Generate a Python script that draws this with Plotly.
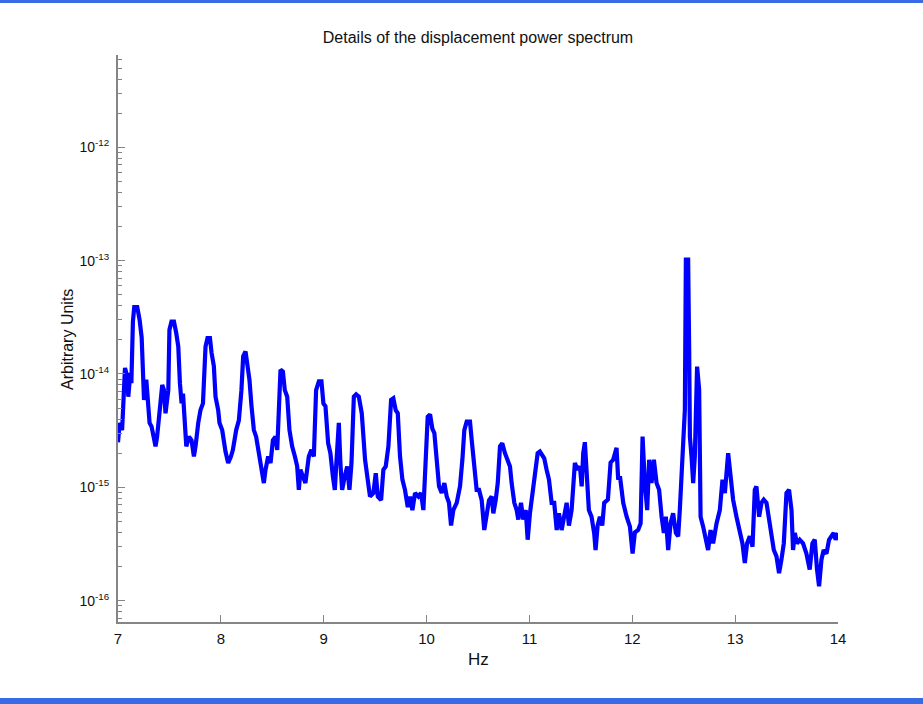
import plotly.graph_objects as go

# ---------------- data ----------------
hz_07 = [7.000, 7.016, 7.040, 7.068, 7.090, 7.100, 7.120, 7.130, 7.145, 7.158,
         7.187, 7.210, 7.230, 7.243, 7.253, 7.275, 7.294, 7.307, 7.326, 7.350,
         7.365, 7.380, 7.414, 7.430, 7.447, 7.462, 7.489, 7.500, 7.520, 7.544,
         7.566, 7.586, 7.602, 7.618, 7.632, 7.650, 7.664, 7.690, 7.715, 7.738,
         7.754, 7.780, 7.802, 7.826, 7.851, 7.870, 7.894, 7.910, 7.932, 7.948,
         7.974, 7.987]
psd_07 = [2.5e-15, 3.7e-15, 3.2e-15, 1.13e-14, 9.5e-15, 6.3e-15, 1.02e-14, 8.3e-15, 2.9e-14, 3.9e-14,
          3.9e-14, 3.0e-14, 2.1e-14, 9.5e-15, 5.9e-15, 8.9e-15, 5.9e-15, 3.7e-15, 3.45e-15, 2.7e-15,
          2.3e-15, 2.8e-15, 5.2e-15, 8.0e-15, 7.2e-15, 4.5e-15, 7.2e-15, 2.45e-14, 2.9e-14, 2.9e-14,
          2.3e-14, 1.75e-14, 8.3e-15, 5.5e-15, 6.7e-15, 3.7e-15, 2.3e-15, 2.8e-15, 2.6e-15, 1.87e-15,
          2.3e-15, 3.7e-15, 4.8e-15, 5.5e-15, 1.75e-14, 2.07e-14, 2.07e-14, 1.53e-14, 1.17e-14, 6.3e-15,
          4.8e-15, 3.7e-15]

hz_08 = [8.013, 8.045, 8.071, 8.098, 8.117, 8.149, 8.175, 8.200, 8.217, 8.240,
         8.266, 8.278, 8.298, 8.321, 8.343, 8.370, 8.395, 8.418, 8.434, 8.460,
         8.483, 8.506, 8.531, 8.548, 8.580, 8.603, 8.622, 8.645, 8.667, 8.693,
         8.720, 8.742, 8.758, 8.774, 8.797, 8.822, 8.855, 8.880, 8.904, 8.926,
         8.953, 8.978, 8.997]
psd_08 = [3.2e-15, 2.07e-15, 1.64e-15, 1.87e-15, 2.14e-15, 3.2e-15, 3.9e-15, 7.2e-15, 1.43e-14, 1.58e-14,
          1.09e-14, 8.9e-15, 5.2e-15, 3.2e-15, 2.8e-15, 2.0e-15, 1.53e-15, 1.09e-15, 1.43e-15, 1.87e-15,
          1.64e-15, 2.6e-15, 2.8e-15, 2.14e-15, 1.09e-14, 1.05e-14, 7.2e-15, 6.3e-15, 3.2e-15, 2.3e-15,
          1.87e-15, 1.53e-15, 9.5e-16, 1.43e-15, 1.25e-15, 1.09e-15, 1.87e-15, 2.14e-15, 1.87e-15, 7.2e-15,
          8.6e-15, 8.6e-15, 5.5e-15]

hz_09 = [9.017, 9.043, 9.065, 9.089, 9.108, 9.121, 9.147, 9.162, 9.179, 9.205,
         9.228, 9.250, 9.270, 9.293, 9.315, 9.341, 9.370, 9.402, 9.428, 9.450,
         9.483, 9.506, 9.526, 9.558, 9.580, 9.603, 9.629, 9.655, 9.677, 9.700,
         9.720, 9.742, 9.765, 9.790, 9.817, 9.840, 9.862, 9.888, 9.920, 9.946,
         9.969, 9.985]
psd_09 = [5.2e-15, 2.45e-15, 2.0e-15, 1.25e-15, 9.5e-16, 1.53e-15, 3.7e-15, 1.64e-15, 9.5e-16, 1.25e-15,
          1.53e-15, 9.5e-16, 1.64e-15, 6.3e-15, 6.6e-15, 6.3e-15, 4.5e-15, 1.75e-15, 1.17e-15, 8.3e-16,
          8.9e-16, 1.33e-15, 8.3e-16, 7.7e-16, 1.43e-15, 1.53e-15, 2.3e-15, 5.9e-15, 6.1e-15, 4.8e-15,
          4.5e-15, 1.87e-15, 1.17e-15, 9.5e-16, 6.7e-16, 8.3e-16, 6.3e-16, 8.9e-16, 8.3e-16, 8.9e-16,
          6.3e-16, 1.43e-15]

hz_10 = [10.011, 10.034, 10.056, 10.076, 10.100, 10.121, 10.147, 10.173, 10.196, 10.218,
         10.238, 10.260, 10.293, 10.325, 10.348, 10.367, 10.390, 10.422, 10.439, 10.464,
         10.487, 10.510, 10.536, 10.561, 10.585, 10.607, 10.633, 10.649, 10.672, 10.692,
         10.714, 10.736, 10.762, 10.789, 10.811, 10.827, 10.853, 10.876, 10.892, 10.918,
         10.940, 10.964, 10.983]
psd_10 = [4.2e-15, 4.4e-15, 3.3e-15, 3.0e-15, 1.53e-15, 1.02e-15, 8.9e-16, 1.09e-15, 8.3e-16, 7.3e-16,
          4.6e-16, 6.3e-16, 7.3e-16, 1.02e-15, 1.75e-15, 3.2e-15, 3.8e-15, 3.8e-15, 2.6e-15, 1.43e-15,
          9.5e-16, 9.5e-16, 7.7e-16, 4.2e-16, 6.3e-16, 7.7e-16, 8.3e-16, 5.9e-16, 7.7e-16, 1.09e-15,
          2.3e-15, 2.45e-15, 2.0e-15, 1.75e-15, 1.53e-15, 1.09e-15, 7.3e-16, 6.3e-16, 5.2e-16, 7.3e-16,
          5.2e-16, 6.3e-16, 3.45e-16]

hz_11 = [11.005, 11.028, 11.054, 11.080, 11.102, 11.125, 11.144, 11.167, 11.190, 11.216,
         11.241, 11.265, 11.287, 11.313, 11.339, 11.362, 11.384, 11.410, 11.426, 11.442,
         11.469, 11.491, 11.508, 11.523, 11.539, 11.556, 11.578, 11.604, 11.630, 11.643,
         11.663, 11.685, 11.708, 11.727, 11.763, 11.789, 11.814, 11.847, 11.863, 11.880,
         11.912, 11.945, 11.977]
psd_11 = [5.9e-16, 8.3e-16, 1.17e-15, 2.0e-15, 2.07e-15, 1.87e-15, 1.8e-15, 1.43e-15, 1.17e-15, 7.3e-16,
          7.3e-16, 4.2e-16, 5.9e-16, 4.2e-16, 5.5e-16, 7.3e-16, 4.6e-16, 6.3e-16, 1.02e-15, 1.64e-15,
          1.43e-15, 1.53e-15, 1.02e-15, 2.0e-15, 2.5e-15, 1.25e-15, 6.3e-16, 5.5e-16, 3.9e-16, 2.8e-16,
          4.6e-16, 5.5e-16, 4.6e-16, 7.3e-16, 7.8e-16, 1.65e-15, 1.75e-15, 2.23e-15, 1.17e-15, 1.25e-15,
          7.3e-16, 5.5e-16, 4.5e-16]

hz_12 = [12.003, 12.025, 12.057, 12.081, 12.100, 12.122, 12.145, 12.164, 12.187, 12.210,
         12.236, 12.261, 12.285, 12.307, 12.326, 12.349, 12.372, 12.397, 12.424, 12.446,
         12.462, 12.479, 12.494, 12.511, 12.521, 12.543, 12.553, 12.560, 12.576, 12.592,
         12.608, 12.630, 12.650, 12.664, 12.689, 12.715, 12.737, 12.761, 12.786, 12.819,
         12.851, 12.877, 12.900, 12.932, 12.958, 12.980]
psd_12 = [2.6e-16, 4.0e-16, 4.2e-16, 4.8e-16, 2.8e-15, 1.09e-15, 6.3e-16, 1.75e-15, 1.09e-15, 1.75e-15,
          1.09e-15, 9.5e-16, 5.5e-16, 3.95e-16, 5.5e-16, 2.8e-16, 4.8e-16, 5.9e-16, 3.95e-16, 3.7e-16,
          6.3e-16, 1.25e-15, 1.64e-15, 4.8e-15, 1.02e-13, 1.02e-13, 1.63e-14, 2.8e-15, 1.87e-15, 1.09e-15,
          1.87e-15, 1.16e-14, 7.3e-15, 5.5e-16, 4.5e-16, 3.45e-16, 2.8e-16, 4.2e-16, 3.2e-16, 4.8e-16,
          6.3e-16, 1.17e-15, 8.9e-16, 2.0e-15, 1.09e-15, 7.8e-16]

hz_13 = [13.013, 13.045, 13.071, 13.094, 13.116, 13.142, 13.169, 13.191, 13.207, 13.233,
         13.256, 13.278, 13.305, 13.330, 13.353, 13.376, 13.402, 13.427, 13.450, 13.473,
         13.499, 13.524, 13.548, 13.563, 13.580, 13.602, 13.628, 13.660, 13.693, 13.725,
         13.751, 13.774, 13.796, 13.816, 13.839, 13.861, 13.888, 13.913, 13.936, 13.958,
         13.977, 14.000]
psd_13 = [5.5e-16, 3.95e-16, 3.2e-16, 2.15e-16, 3.2e-16, 3.7e-16, 3.0e-16, 9.5e-16, 1.02e-15, 5.5e-16,
          7.3e-16, 7.8e-16, 7.3e-16, 5.2e-16, 3.7e-16, 2.8e-16, 2.46e-16, 1.75e-16, 2.3e-16, 3.2e-16,
          8.9e-16, 9.5e-16, 6.3e-16, 2.8e-16, 3.95e-16, 3.2e-16, 3.45e-16, 3.2e-16, 2.6e-16, 1.88e-16,
          3.2e-16, 3.45e-16, 1.88e-16, 1.34e-16, 2.3e-16, 2.8e-16, 2.6e-16, 3.45e-16, 3.7e-16, 3.95e-16,
          3.45e-16, 3.95e-16]

x_ticks = [7, 8, 9, 10, 11, 12, 13, 14]
x_tick_labels = ["7", "8", "9", "10", "11", "12", "13", "14"]
y_ticks = [1e-16, 1e-15, 1e-14, 1e-13, 1e-12]
y_tick_labels = ["10<sup>-16</sup>", "10<sup>-15</sup>", "10<sup>-14</sup>",
                 "10<sup>-13</sup>", "10<sup>-12</sup>"]

title_text = "Details of the displacement power spectrum"
x_label = "Hz"
y_label = "Arbitrary Units"

# ---------------- assemble ----------------
freq, power = [], []
for fx, py in [(hz_07, psd_07), (hz_08, psd_08), (hz_09, psd_09), (hz_10, psd_10),
               (hz_11, psd_11), (hz_12, psd_12), (hz_13, psd_13)]:
    n = min(len(fx), len(py))
    freq += fx[:n]
    power += py[:n]

W, H = 923, 704
ML, MR, MT, MB = 118, 85, 55, 82
PW, PH = W - ML - MR, H - MT - MB

minor_vals = [m * 10.0 ** e for e in range(-17, -11) for m in range(2, 10)]

AX = "#858585"
TXT = "#111111"
FONT = "Liberation Sans, Arial, Helvetica, sans-serif"

fig = go.Figure()
fig.add_trace(go.Scatter(x=freq, y=power, mode="lines",
                         line=dict(color="#0000ff", width=4.2),
                         showlegend=False, hoverinfo="skip"))

fig.update_layout(
    width=W, height=H,
    margin=dict(l=ML, r=MR, t=MT, b=MB, pad=0),
    paper_bgcolor="white", plot_bgcolor="white",
    font=dict(family=FONT, color=TXT),
    title=dict(text=title_text, x=0.5, xref="paper", xanchor="center",
               y=1 - 37 / H, yref="container", yanchor="middle",
               font=dict(size=16, color=TXT, family=FONT)),
    xaxis=dict(range=[7, 14], tickvals=x_ticks, ticktext=x_tick_labels,
               ticks="inside", ticklen=7, tickwidth=1, tickcolor=AX,
               showline=True, linecolor=AX, linewidth=2,
               showgrid=False, zeroline=False, mirror=False,
               tickfont=dict(size=15, color=TXT), ticklabelstandoff=2),
    yaxis=dict(type="log", range=[-16.188, -11.186],
               tickvals=y_ticks, ticktext=y_tick_labels,
               ticks="inside", ticklen=7, tickwidth=1, tickcolor=AX,
               showline=True, linecolor=AX, linewidth=2,
               showgrid=False, zeroline=False, mirror=False,
               tickfont=dict(size=14, color=TXT), ticklabelstandoff=4,
               minor=dict(tickvals=minor_vals, ticks="inside", ticklen=4,
                          tickwidth=1, tickcolor=AX, showgrid=False)),
    annotations=[
        dict(text=x_label, xref="paper", yref="paper", x=0.5, y=-(659 - (MT + PH)) / PH,
             xanchor="center", yanchor="middle", showarrow=False,
             font=dict(size=17, color=TXT, family=FONT)),
        dict(text=y_label, xref="paper", yref="paper", x=(67 - ML) / PW,
             y=(MT + PH - 340) / PH, textangle=-90,
             xanchor="center", yanchor="middle", showarrow=False,
             font=dict(size=16, color=TXT, family=FONT)),
    ],
    shapes=[
        dict(type="rect", xref="paper", yref="paper",
             x0=-ML / PW, x1=(W - ML) / PW,
             y0=(MT + PH - 3) / PH, y1=(MT + PH) / PH + 0.01,
             fillcolor="#3a6be6", line=dict(width=0), layer="above"),
        dict(type="rect", xref="paper", yref="paper",
             x0=-ML / PW, x1=(W - ML) / PW,
             y0=-(H - MT - PH) / PH - 0.01, y1=-(698 - MT - PH) / PH,
             fillcolor="#3a6be6", line=dict(width=0), layer="above"),
    ],
)

fig.write_html("out.html")
